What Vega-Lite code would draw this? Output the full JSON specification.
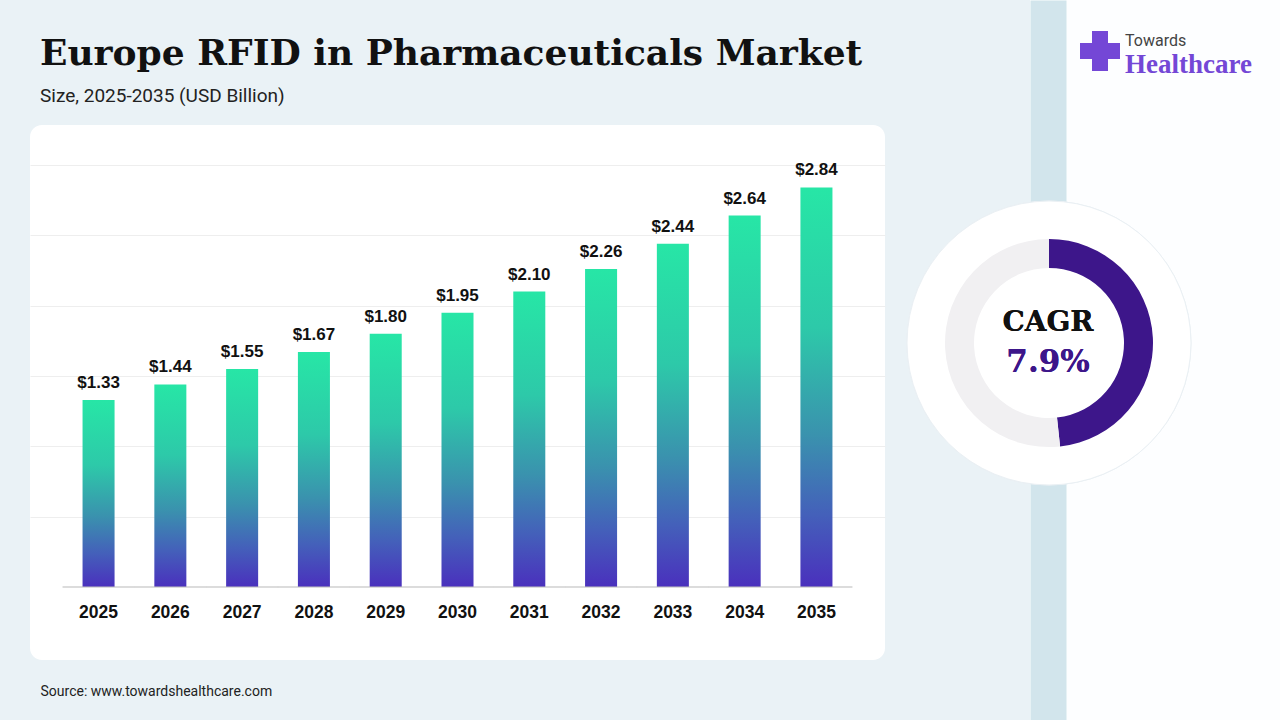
{
  "$schema": "https://vega.github.io/schema/vega-lite/v6.json",
  "background": "#EAF2F6",
  "padding": {"left": 30, "top": 0, "right": 0, "bottom": 0},
  "spacing": 20,
  "config": {
    "view": {"stroke": null},
    "font": "Liberation Sans"
  },
  "datasets": {
    "market": [
      {"year": "2025", "value": 1.33},
      {"year": "2026", "value": 1.44},
      {"year": "2027", "value": 1.55},
      {"year": "2028", "value": 1.67},
      {"year": "2029", "value": 1.80},
      {"year": "2030", "value": 1.95},
      {"year": "2031", "value": 2.10},
      {"year": "2032", "value": 2.26},
      {"year": "2033", "value": 2.44},
      {"year": "2034", "value": 2.64},
      {"year": "2035", "value": 2.84}
    ],
    "cagr": [
      {"segment": "CAGR", "share": 48.3, "idx": 1},
      {"segment": "rest", "share": 51.7, "idx": 2}
    ]
  },
  "hconcat": [
    {
      "bounds": "flush",
      "spacing": 124,
      "vconcat": [
        {
          "width": 855,
          "height": 1,
          "data": {"values": []},
          "mark": "point"
        },
        {
          "width": 855,
          "height": 535,
          "view": {"fill": "#FFFFFF", "cornerRadius": 12},
          "title": {
            "text": "Europe RFID in Pharmaceuticals Market",
            "subtitle": "Size, 2025-2035 (USD Billion)",
            "anchor": "start",
            "frame": "group",
            "dx": 10,
            "offset": 18,
            "font": "DejaVu Serif",
            "fontSize": 36,
            "fontWeight": "bold",
            "color": "#111111",
            "subtitleFont": "Roboto",
            "subtitleFontSize": 19,
            "subtitleColor": "#222222",
            "subtitlePadding": 14
          },
          "data": {"name": "market"},
          "encoding": {
            "x": {
              "field": "year",
              "type": "nominal",
              "scale": {"paddingInner": 0.554, "paddingOuter": 0.732},
              "axis": {
                "title": "Source: www.towardshealthcare.com",
                "titleAnchor": "start",
                "titleX": 10,
                "titleY": 108,
                "titleBaseline": "alphabetic",
                "titleFont": "Roboto",
                "titleFontSize": 14,
                "titleFontWeight": "normal",
                "titleColor": "#222222",
                "offset": -73,
                "domain": false,
                "ticks": false,
                "tickSize": 0,
                "labelAngle": 0,
                "labelPadding": 16,
                "labelFontSize": 17.5,
                "labelFontWeight": "bold",
                "labelColor": "#111111"
              }
            },
            "y": {
              "field": "value",
              "type": "quantitative",
              "scale": {"domain": [-0.519, 3.284], "nice": false, "zero": false},
              "axis": {
                "title": null,
                "labels": false,
                "ticks": false,
                "domain": false,
                "values": [0.5, 1, 1.5, 2, 2.5, 3],
                "gridColor": "#EEEEEE",
                "gridWidth": 1
              }
            }
          },
          "layer": [
            {
              "mark": {
                "type": "bar",
                "color": {
                  "gradient": "linear",
                  "x1": 0, "y1": 0, "x2": 0, "y2": 1,
                  "stops": [
                    {"offset": 0, "color": "#27E6A6"},
                    {"offset": 0.35, "color": "#2DC9A9"},
                    {"offset": 0.62, "color": "#3A92AE"},
                    {"offset": 0.82, "color": "#4460BA"},
                    {"offset": 1, "color": "#4A30BD"}
                  ]
                }
              },
              "encoding": {
                "y": {"field": "value", "type": "quantitative"},
                "y2": {"datum": 0}
              }
            },
            {
              "mark": {"type": "tick", "size": 72, "thickness": 1.5, "color": "#BDBDBD"},
              "encoding": {"y": {"datum": 0}}
            },
            {
              "mark": {
                "type": "text",
                "baseline": "bottom",
                "dy": -8,
                "fontSize": 17,
                "fontWeight": "bold",
                "color": "#111111"
              },
              "encoding": {
                "text": {"field": "value", "type": "quantitative", "format": "$.2f"}
              }
            }
          ]
        }
      ]
    },
    {
      "width": 250,
      "height": 720,
      "view": {"fill": "#FDFEFF"},
      "title": {
        "text": "Towards",
        "subtitle": "Healthcare",
        "anchor": "start",
        "frame": "group",
        "dx": 95,
        "offset": -78,
        "font": "Roboto",
        "fontSize": 16,
        "fontWeight": "normal",
        "color": "#444444",
        "subtitleFont": "Liberation Serif",
        "subtitleFontSize": 27,
        "subtitleFontWeight": "bold",
        "subtitleColor": "#7447D6",
        "subtitlePadding": 3
      },
      "data": {"name": "cagr"},
      "layer": [
        {
          "mark": {"type": "rule", "strokeOpacity": 0},
          "encoding": {
            "y": {
              "datum": 0,
              "axis": {
                "title": null,
                "labels": false,
                "ticks": false,
                "grid": false,
                "domainColor": "#D2E5EC",
                "domainWidth": 36,
                "offset": -18
              }
            }
          }
        },
        {
          "mark": {
            "type": "arc",
            "theta": 6.2832,
            "radius": 142,
            "radius2": 0,
            "color": "#FFFFFF",
            "stroke": "#EAF0F4",
            "strokeWidth": 1,
            "xOffset": -106,
            "yOffset": -17
          },
          "encoding": {}
        },
        {
          "mark": {
            "type": "arc",
            "radius": 104,
            "radius2": 75,
            "xOffset": -106,
            "yOffset": -17
          },
          "encoding": {
            "theta": {"field": "share", "type": "quantitative", "stack": true},
            "order": {"field": "idx"},
            "color": {
              "field": "segment",
              "type": "nominal",
              "scale": {"domain": ["CAGR", "rest"], "range": ["#3D168A", "#F1F0F2"]},
              "legend": null
            }
          }
        },
        {
          "mark": {
            "type": "text",
            "text": "CAGR",
            "font": "DejaVu Serif",
            "fontSize": 28,
            "fontWeight": "bold",
            "color": "#111111",
            "baseline": "middle",
            "align": "center",
            "xOffset": -107,
            "yOffset": -37
          },
          "encoding": {}
        },
        {
          "mark": {
            "type": "text",
            "text": "7.9%",
            "font": "DejaVu Serif",
            "fontSize": 31,
            "fontWeight": "bold",
            "color": "#3D168A",
            "baseline": "middle",
            "align": "center",
            "xOffset": -107,
            "yOffset": 3
          },
          "encoding": {}
        },
        {
          "data": {"values": [{"brand": "Towards Healthcare"}]},
          "mark": {
            "type": "point",
            "shape": "cross",
            "size": 1600,
            "filled": true,
            "color": "#7447D6",
            "opacity": 1,
            "xOffset": -55,
            "yOffset": -309
          },
          "encoding": {}
        }
      ]
    }
  ]
}
